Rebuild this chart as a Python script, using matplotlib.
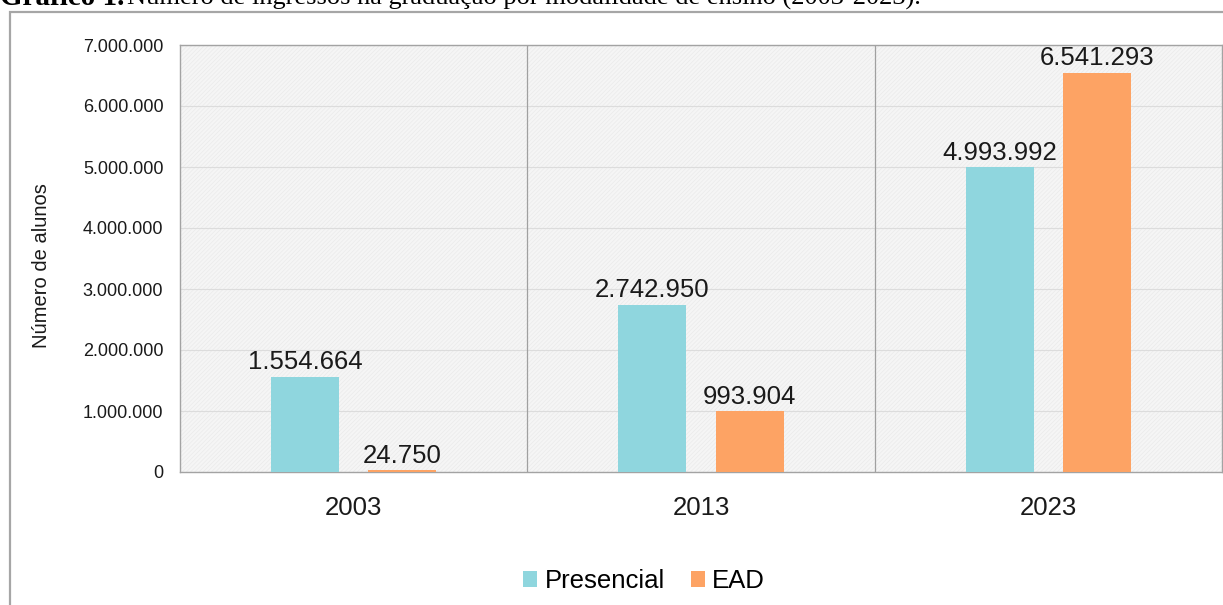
import numpy as np
import matplotlib.pyplot as plt
from matplotlib.patches import Rectangle

# Ingressos na graduação por modalidade
anos = ["2003", "2013", "2023"]
presencial = [1554664, 2742950, 4993992]
ead = [24750, 993904, 6541293]
yticks = [0, 1000000, 2000000, 3000000, 4000000, 5000000, 6000000, 7000000]


def fmt(v):
	return "{:,}".format(int(v)).replace(",", ".")


plt.rcParams['font.family'] = ['Liberation Sans', 'DejaVu Sans']
plt.rcParams['hatch.linewidth'] = 0.5

fig = plt.figure(figsize=(12.23, 6.05), dpi=100)
ax = fig.add_axes([180 / 1223, 1 - 472 / 605, 1042 / 1223, 427 / 605])

# moldura externa
fig.patches.append(Rectangle((10 / 1223, -0.2), 1.1, 1.2 - 12 / 605, transform=fig.transFigure,
	fill=False, edgecolor="#a6a6a6", linewidth=1.6, zorder=0))

# legenda do gráfico (cortada no topo)
fig.text(0.0, 1 - 5 / 605, "Gráfico 1.", family="Liberation Serif", fontsize=21,
	fontweight="bold", va="baseline", ha="left")
fig.text(127 / 1223, 1 - 5 / 605,
	"Número de ingressos na graduação por modalidade de ensino (2003-2023).",
	family="Liberation Serif", fontsize=19, va="baseline", ha="left")

# fundo texturizado
ax.set_facecolor("#f5f5f5")
ax.add_patch(Rectangle((0, 0), 1, 1, transform=ax.transAxes, facecolor="none",
	edgecolor="#eaeaea", hatch="////////", linewidth=0, zorder=0))

x = np.arange(len(anos))
w = 0.196
off = 0.14
b1 = ax.bar(x - off, presencial, w, color="#8fd6de", label="Presencial", zorder=3)
b2 = ax.bar(x + off, ead, w, color="#fda364", label="EAD", zorder=3)

for bars, vals in ((b1, presencial), (b2, ead)):
	for b, v in zip(bars, vals):
		ax.annotate(fmt(v), (b.get_x() + b.get_width() / 2, v), xytext=(0, 2),
			textcoords="offset points", ha="center", va="bottom", fontsize=18.5,
			color="#1a1a1a", zorder=4)

ax.set_xlim(-0.5, 2.5)
ax.set_ylim(0, 7000000)
ax.set_yticks(yticks)
ax.set_yticklabels([fmt(v) for v in yticks])
ax.set_xticks(x)
ax.set_xticklabels(anos)
ax.tick_params(axis="y", length=0, pad=12, labelsize=13, labelcolor="#1a1a1a")
ax.tick_params(axis="x", length=0, pad=17, labelsize=18.5, labelcolor="#1a1a1a")

for v in yticks[1:]:
	ax.axhline(v, color="#dcdcdc", linewidth=0.8, zorder=1)
for s in (0.5, 1.5):
	ax.axvline(s, color="#a0a0a0", linewidth=0.9, zorder=1)

for sp in ax.spines.values():
	sp.set_color("#a3a3a3")
	sp.set_linewidth(1.0)

fig.text(42 / 1223, 1 - 266 / 605, "Número de alunos", rotation=90, fontsize=14.5,
	va="center", ha="center", color="#1a1a1a")

fig.legend(handles=[b1, b2], loc="center", bbox_to_anchor=(644 / 1223, 1 - 581 / 605),
	ncol=2, frameon=False, fontsize=18.5, handlelength=0.55, handleheight=0.55,
	handletextpad=0.3, columnspacing=1.0)

plt.savefig("out.png", dpi=100)
